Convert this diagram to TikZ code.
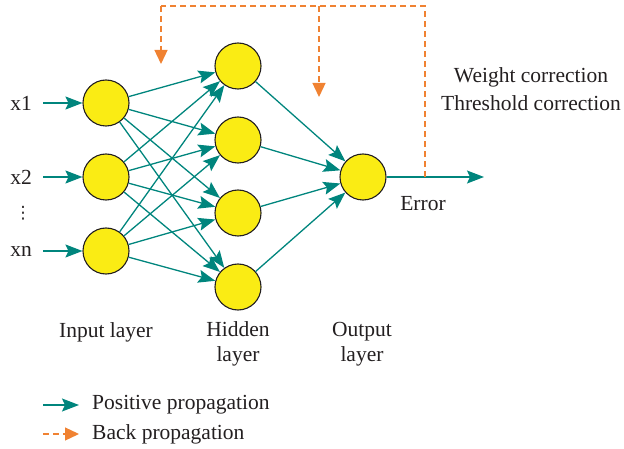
\documentclass[tikz,border=0pt]{standalone}
\usepackage{fontspec}
\setmainfont{Liberation Serif}
\newfontfamily\dejavu{DejaVu Sans}
\usetikzlibrary{arrows.meta}
\definecolor{teal1}{RGB}{0,133,125}
\definecolor{orng}{RGB}{240,130,50}
\definecolor{yell}{RGB}{250,236,20}
\definecolor{txt}{RGB}{35,31,32}
\tikzset{
  neuron/.style={circle,draw=txt,line width=1.1pt,fill=yell,minimum size=46pt,inner sep=0pt},
  fwd/.style={teal1,line width=1.3pt,-{Stealth[length=17pt,width=13pt,inset=3pt]}},
  bwd/.style={orng,line width=1.3pt,dash pattern=on 6pt off 4pt,-{Stealth[length=14pt,width=13pt,inset=0pt]}},
  bwdline/.style={orng,line width=1.3pt,dash pattern=on 6pt off 4pt},
  lbl/.style={text=txt,font=\fontsize{21.5}{25}\selectfont,inner sep=0pt,align=center},
}
\begin{document}
\begin{tikzpicture}[x=1pt,y=-1pt]
\useasboundingbox (0,0) rectangle (624,449);
% nodes
\node[neuron] (i1) at (106,103) {};
\node[neuron] (i2) at (106,177) {};
\node[neuron] (i3) at (106,251) {};
\node[neuron] (h1) at (238,66) {};
\node[neuron] (h2) at (238,140) {};
\node[neuron] (h3) at (238,213) {};
\node[neuron] (h4) at (238,287) {};
\node[neuron] (o) at (363,177) {};
% input labels
\node[lbl] (x1) at (21,103) {x1};
\node[lbl] (x2) at (21,177) {x2};
\node[lbl,font=\dejavu\fontsize{17}{20}\selectfont] (xd) at (23,213) {⋮};
\node[lbl] (xn) at (21,251) {xn};
\coordinate (a1) at (43,103);
\coordinate (a2) at (43,177);
\coordinate (a3) at (43,251);
\draw[fwd] (a1) -- (i1);
\draw[fwd] (a2) -- (i2);
\draw[fwd] (a3) -- (i3);
% input -> hidden
\foreach \i in {i1,i2,i3}{
  \foreach \h in {h1,h2,h3,h4}{
    \draw[fwd] (\i) -- (\h);
  }
}
% hidden -> output
\foreach \h in {h1,h2,h3,h4}{
  \draw[fwd] (\h) -- (o);
}
% output arrow
\coordinate (oend) at (484,177);
\coordinate (ebr) at (425,177);
\draw[fwd] (o) -- (oend);
\node[lbl] (err) at (423,204) {Error};
% back propagation
\coordinate (c1) at (425,6);
\coordinate (c2) at (161,6);
\coordinate (c3) at (161,64);
\coordinate (c4) at (319,6);
\coordinate (c5) at (319,97);
\draw[bwdline] (ebr) -- (c1) -- (c2);
\draw[bwd] (c2) -- (c3);
\draw[bwd] (c4) -- (c5);
\node[lbl] (wc) at (531,77) {Weight correction};
\node[lbl] (tc) at (531,103) {Threshold correction};
% layer labels
\node[lbl] (li) at (106,332) {Input layer};
\node[lbl] (lh) at (238,344) {Hidden\\layer};
\node[lbl] (lo) at (362,344) {Output\\layer};
% legend
\coordinate (l1a) at (43,405);
\coordinate (l1b) at (79,405);
\coordinate (l2a) at (43,434);
\coordinate (l2b) at (79,434);
\draw[fwd] (l1a) -- (l1b);
\draw[bwd] (l2a) -- (l2b);
\node[lbl,anchor=west] (t1) at (92,405) {Positive propagation};
\node[lbl,anchor=west] (t2) at (92,434) {Back propagation};
\end{tikzpicture}
\end{document}
